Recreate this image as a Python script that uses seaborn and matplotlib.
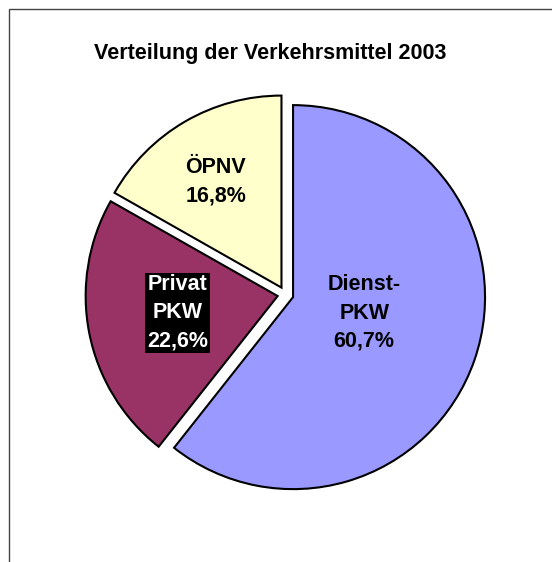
import matplotlib
matplotlib.use("Agg")
import matplotlib.pyplot as plt
import seaborn as sns
import numpy as np
from matplotlib.patches import Rectangle

# data
categories = ["Dienst-\nPKW", "Privat\nPKW", "ÖPNV"]
shares = [60.7, 22.6, 16.8]
colors = ["#9999FF", "#993366", "#FFFFCC"]
title = "Verteilung der Verkehrsmittel 2003"

sns.set_theme(style="white")
plt.rcParams['font.family'] = ['Liberation Sans', 'DejaVu Sans']

W, H = 552, 562
fig = plt.figure(figsize=(W / 100, H / 100), dpi=100)
ax = fig.add_axes([0, 0, 1, 1])

# pie in pixel-like data units
cx, cy, r = 285.5, H - 294.5, 192
wedges, _ = ax.pie(shares, colors=sns.color_palette(colors), startangle=90,
                   counterclock=False, center=(cx, cy), radius=r,
                   explode=[8, 8, 8],
                   wedgeprops=dict(edgecolor="black", linewidth=1.5))
ax.set_xlim(0, W)
ax.set_ylim(0, H)
ax.set_aspect("equal")
ax.axis("off")

# label placement: (angle offset deg, distance fraction of radius)
label_pos = [(6.5, 0.38), (-1.5, 0.53), (1.5, 0.65)]
for w, cat, val, (da, fr) in zip(wedges, categories, shares, label_pos):
    ang = np.deg2rad(0.5 * (w.theta1 + w.theta2) + da)
    x = w.center[0] + fr * r * np.cos(ang)
    y = w.center[1] + fr * r * np.sin(ang)
    txt = f"{cat}\n{val:.1f}%".replace(".", ",")
    kw = dict(ha="center", va="center", fontsize=15.5, fontweight="bold",
              linespacing=1.45)
    if cat.startswith("Privat"):
        ax.text(x, y, txt, color="white",
                bbox=dict(boxstyle="square,pad=0.08", fc="black", ec="none"), **kw)
    else:
        ax.text(x, y, txt, color="black", **kw)

fig.text(270 / W, 1 - 53 / H, title, ha="center", va="center",
         fontsize=15.5, fontweight="bold", color="black")

# chart frame (cropped on right and bottom)
fig.patches.append(Rectangle((9 / W, -0.1), 1.2, 1 - 9 / H + 0.1,
                             transform=fig.transFigure, fill=False,
                             edgecolor="#444444", linewidth=1.0))

fig.savefig("out.png", dpi=100)
